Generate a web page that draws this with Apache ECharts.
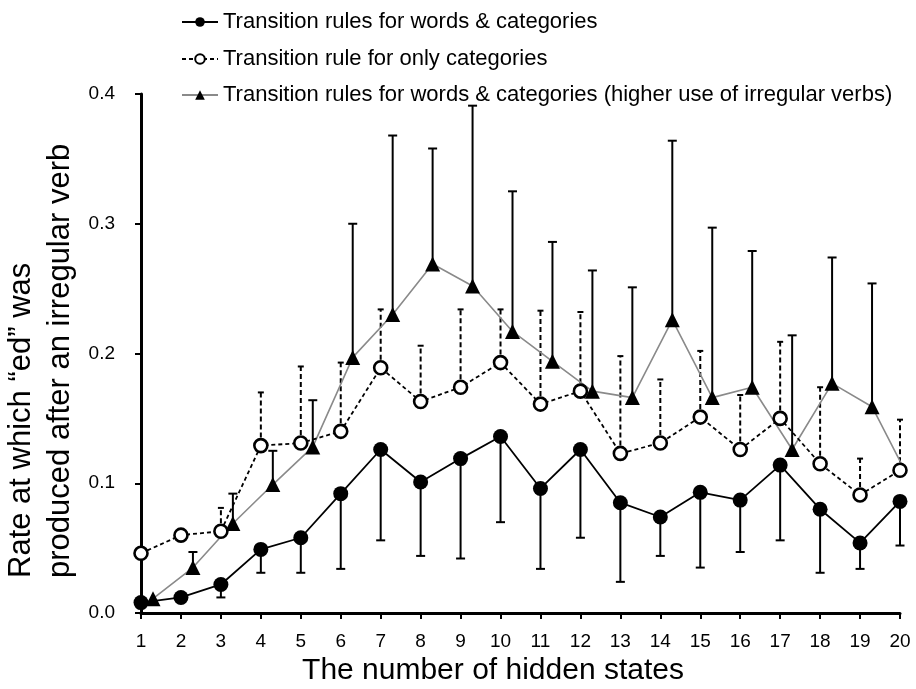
<!DOCTYPE html>
<html>
<head>
<meta charset="utf-8">
<script src="https://cdn.jsdelivr.net/npm/echarts@6/dist/echarts.min.js"></script>
<style>
  html, body { margin: 0; padding: 0; background: #fff; }
  #chart { width: 916px; height: 689px; }
</style>
</head>
<body>
<div id="chart"></div>
<script>
// ---------- data ----------
const hiddenStates = [1,2,3,4,5,6,7,8,9,10,11,12,13,14,15,16,17,18,19,20];
const xTickLabels = ['1','2','3','4','5','6','7','8','9','10','11','12','13','14','15','16','17','18','19','20'];
const yTickLabels = ['0.0','0.1','0.2','0.3','0.4'];

const seriesNames = [
  'Transition rules for words & categories',
  'Transition rule for only categories',
  'Transition rules for words & categories (higher use of irregular verbs)'
];
const xAxisTitle = 'The number of hidden states';
const yAxisTitle = 'Rate at which \u201Ced\u201D was\nproduced after an irregular verb';

// filled circles: mean and lower error-bar end
const wordsCatMean  = [0.008,0.012,0.022,0.049,0.058,0.092,0.126,0.101,0.119,0.136,0.096,0.126,0.085,0.074,0.093,0.087,0.114,0.080,0.054,0.086];
const wordsCatLower = [0.008,0.012,0.012,0.031,0.031,0.034,0.056,0.044,0.042,0.070,0.034,0.058,0.024,0.044,0.035,0.047,0.056,0.031,0.034,0.052];

// open circles: mean and upper error-bar end
const onlyCatMean  = [0.046,0.060,0.063,0.129,0.131,0.140,0.189,0.163,0.174,0.193,0.161,0.171,0.123,0.131,0.151,0.126,0.150,0.115,0.091,0.110];
const onlyCatUpper = [0.046,0.060,0.081,0.170,0.190,0.193,0.234,0.206,0.234,0.234,0.233,0.232,0.198,0.180,0.202,0.168,0.209,0.174,0.119,0.149];

// triangles: mean and upper error-bar end (plotted at x + 0.3)
const irregMean  = [0.011,0.035,0.069,0.099,0.128,0.197,0.230,0.269,0.252,0.217,0.194,0.171,0.166,0.226,0.166,0.174,0.126,0.177,0.159,0.099];
const irregUpper = [0.011,0.047,0.092,0.125,0.164,0.300,0.368,0.358,0.391,0.325,0.286,0.264,0.251,0.364,0.297,0.279,0.214,0.274,0.254,0.140];
const triangleOffset = 0.3;

// ---------- build ----------
const FONT = '"Liberation Sans", Arial, Helvetica, sans-serif';

const s1 = hiddenStates.map((x, i) => [x, wordsCatMean[i]]);
const s2 = hiddenStates.map((x, i) => [x, onlyCatMean[i]]);
const s3 = hiddenStates.map((x, i) => [x + triangleOffset, irregMean[i]]);

const e1 = hiddenStates.map((x, i) => [x, wordsCatMean[i], wordsCatLower[i]]);
const e2 = hiddenStates.map((x, i) => [x, onlyCatMean[i], onlyCatUpper[i]]);
const e3 = hiddenStates.map((x, i) => [x + triangleOffset, irregMean[i], irregUpper[i]]);

function errorBar(dashed, capW, lw) {
  return function (params, api) {
    const x = api.value(0);
    const a = api.coord([x, api.value(1)]);
    const b = api.coord([x, api.value(2)]);
    if (Math.abs(a[1] - b[1]) < 0.5) return null;
    const style = { stroke: '#000', lineWidth: lw, lineDash: dashed ? [5, 3] : null };
    return {
      type: 'group',
      children: [
        { type: 'line', shape: { x1: a[0], y1: a[1], x2: b[0], y2: b[1] }, style: style },
        { type: 'line', shape: { x1: b[0] - capW / 2, y1: b[1], x2: b[0] + capW / 2, y2: b[1] }, style: { stroke: '#000', lineWidth: lw } }
      ]
    };
  };
}

function legendAt(name, top) {
  return {
    data: [name],
    left: 176,
    top: top,
    orient: 'vertical',
    itemWidth: 36,
    itemHeight: 12,
    selectedMode: false,
    textStyle: { fontFamily: FONT, fontSize: 22, color: '#000' }
  };
}

const chart = echarts.init(document.getElementById('chart'), null, { renderer: 'canvas' });

chart.setOption({
  animation: false,
  backgroundColor: '#fff',
  textStyle: { fontFamily: FONT },
  legend: [
    legendAt(seriesNames[0], 6),
    legendAt(seriesNames[1], 43),
    legendAt(seriesNames[2], 79)
  ],
  grid: { left: 141, right: 16, top: 94, bottom: 76, containLabel: false, outerBoundsMode: 'none' },
  xAxis: {
    type: 'value',
    min: 1, max: 20, interval: 1,
    axisLine: { onZero: false, lineStyle: { color: '#000', width: 3 } },
    axisTick: { inside: false, length: 6, lineStyle: { color: '#000', width: 2 } },
    axisLabel: {
      margin: 19, fontFamily: FONT, fontSize: 19, color: '#000',
      formatter: function (v) { const i = hiddenStates.indexOf(v); return i >= 0 ? xTickLabels[i] : ''; }
    },
    splitLine: { show: false }
  },
  yAxis: {
    type: 'value',
    min: 0, max: 0.4, interval: 0.1,
    axisLine: { show: true, lineStyle: { color: '#000', width: 3 } },
    axisTick: { show: true, inside: false, length: 6, lineStyle: { color: '#000', width: 2 } },
    axisLabel: {
      margin: 26, fontFamily: FONT, fontSize: 19, color: '#000',
      formatter: function (v) { return yTickLabels[Math.round(v * 10)]; }
    },
    splitLine: { show: false }
  },
  graphic: [{
    type: 'text',
    x: 2, y: 578,
    rotation: Math.PI / 2,
    style: {
      text: yAxisTitle,
      font: '31px ' + FONT,
      fill: '#000',
      textAlign: 'left',
      textVerticalAlign: 'top',
      lineHeight: 39
    }
  }, {
    type: 'text',
    x: 493, y: 671,
    style: {
      text: xAxisTitle,
      font: '30px ' + FONT,
      fill: '#000',
      textAlign: 'center',
      textVerticalAlign: 'middle'
    }
  }],
  series: [
    { type: 'custom', name: 'eb3', renderItem: errorBar(false, 9, 2), data: e3, clip: true, z: 1, silent: true },
    { type: 'custom', name: 'eb2', renderItem: errorBar(true, 6, 2), data: e2, z: 1, silent: true },
    { type: 'custom', name: 'eb1', renderItem: errorBar(false, 9, 2), data: e1, z: 1, silent: true },
    {
      type: 'line', name: seriesNames[2], data: s3, clip: true, z: 3,
      symbol: 'triangle', symbolSize: 15,
      itemStyle: { color: '#000' },
      lineStyle: { color: '#8a8a8a', width: 1.6 }
    },
    {
      type: 'line', name: seriesNames[1], data: s2, clip: false, z: 4,
      symbol: 'circle', symbolSize: 13,
      itemStyle: { color: '#fff', borderColor: '#000', borderWidth: 2.6 },
      lineStyle: { color: '#000', width: 1.8, type: [4, 3] }
    },
    {
      type: 'line', name: seriesNames[0], data: s1, clip: false, z: 5,
      symbol: 'circle', symbolSize: 15,
      itemStyle: { color: '#000' },
      lineStyle: { color: '#000', width: 1.8 }
    }
  ]
});
</script>
</body>
</html>
